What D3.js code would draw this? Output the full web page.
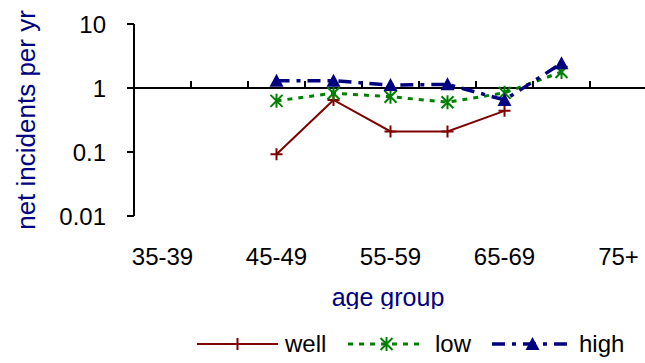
<!DOCTYPE html>
<html>
<head>
<meta charset="utf-8">
<script src="https://cdn.jsdelivr.net/npm/d3@7"></script>
<style>
  html, body { margin: 0; padding: 0; background: #fff; }
  svg { display: block; font-family: "Liberation Sans", Arial, sans-serif; }
</style>
</head>
<body>
<svg id="chart" width="645" height="363"></svg>
<script>
// age groups (only every other one is labelled)
const ageGroups = ["35-39", "40-44", "45-49", "50-54", "55-59", "60-64", "65-69", "70-74", "75+"];
const labelledGroups = ["35-39", "45-49", "55-59", "65-69", "75+"];

// net incidents per year
const wellValues = [null, null, 0.092, 0.65, 0.21, 0.21, 0.44, null, null];
const lowValues  = [null, null, 0.63, 0.83, 0.73, 0.60, 0.84, 1.78, null];
const highValues = [null, null, 1.30, 1.30, 1.11, 1.14, 0.65, 2.43, null];

const yTicks = [0.01, 0.1, 1, 10];
const yTickLabels = ["0.01", "0.1", "1", "10"];

const series = [
  { name: "well", values: wellValues, color: "#800000", dash: null, width: 2, marker: "plus" },
  { name: "low", values: lowValues, color: "#008000", dash: "5,6", width: 3, marker: "star" },
  { name: "high", values: highValues, color: "#000080", dash: "13,7,4,7", width: 3.5, marker: "triangle" }
];

const svg = d3.select("#chart");

// scales
const x = d3.scaleBand().domain(ageGroups).range([134, 647]).padding(0);
const y = d3.scaleLog().domain([0.01, 10]).range([216, 24]);
const cx = d => x(d) + x.bandwidth() / 2;
const axisY = y(1);

// y axis
svg.append("line")
  .attr("x1", 134).attr("x2", 134)
  .attr("y1", y(10)).attr("y2", y(0.01))
  .attr("stroke", "#000").attr("stroke-width", 2);

yTicks.forEach((t, i) => {
  svg.append("line")
    .attr("x1", 127).attr("x2", 134)
    .attr("y1", y(t)).attr("y2", y(t))
    .attr("stroke", "#000").attr("stroke-width", 2);
  svg.append("text")
    .attr("x", 106).attr("y", y(t) + 9)
    .attr("text-anchor", "end")
    .attr("font-size", 24)
    .text(yTickLabels[i]);
});

// x axis crosses at 1
svg.append("line")
  .attr("x1", 134).attr("x2", 647)
  .attr("y1", axisY).attr("y2", axisY)
  .attr("stroke", "#000").attr("stroke-width", 2);

ageGroups.slice(1).forEach(g => {
  svg.append("line")
    .attr("x1", x(g)).attr("x2", x(g))
    .attr("y1", axisY - 7).attr("y2", axisY)
    .attr("stroke", "#000").attr("stroke-width", 2);
});

labelledGroups.forEach(g => {
  svg.append("text")
    .attr("x", cx(g)).attr("y", 265)
    .attr("text-anchor", "middle")
    .attr("font-size", 24)
    .text(g);
});

// axis titles
svg.append("text")
  .attr("transform", "translate(35,120) rotate(-90)")
  .attr("text-anchor", "middle")
  .attr("font-size", 26)
  .attr("fill", "#000080")
  .text("net incidents per yr");

svg.append("clipPath").attr("id", "xtitleClip")
  .append("rect").attr("x", 0).attr("y", 270).attr("width", 645).attr("height", 39);

svg.append("text")
  .attr("clip-path", "url(#xtitleClip)")
  .attr("x", 388).attr("y", 306)
  .attr("text-anchor", "middle")
  .attr("font-size", 25)
  .attr("fill", "#000080")
  .text("age group");

// markers
function drawMarker(g, type, px, py, color) {
  if (type === "plus") {
    g.append("path")
      .attr("d", `M${px - 6},${py}H${px + 6}M${px},${py - 6}V${py + 6}`)
      .attr("stroke", color).attr("stroke-width", 2).attr("fill", "none");
  } else if (type === "star") {
    const r = 6;
    g.append("path")
      .attr("d", `M${px - r},${py - r}L${px + r},${py + r}M${px - r},${py + r}L${px + r},${py - r}M${px},${py - r - 1}V${py + r + 1}`)
      .attr("stroke", color).attr("stroke-width", 2).attr("fill", "none");
  } else {
    g.append("path")
      .attr("d", `M${px},${py - 7}L${px + 7},${py + 6}L${px - 7},${py + 6}Z`)
      .attr("fill", color);
  }
}

const line = d3.line()
  .defined(d => d.v != null)
  .x(d => cx(d.g))
  .y(d => y(d.v));

series.forEach(s => {
  const pts = ageGroups.map((g, i) => ({ g: g, v: s.values[i] }));
  const grp = svg.append("g");
  grp.append("path")
    .datum(pts)
    .attr("d", line)
    .attr("fill", "none")
    .attr("stroke", s.color)
    .attr("stroke-width", s.width)
    .attr("stroke-dasharray", s.dash);
  pts.filter(d => d.v != null).forEach(d => drawMarker(grp, s.marker, cx(d.g), y(d.v), s.color));
});

// legend
const legendItems = [
  { s: series[0], x0: 197, x1: 278, tx: 285 },
  { s: series[1], x0: 348, x1: 425, tx: 435 },
  { s: series[2], x0: 492, x1: 573, tx: 579 }
];
const ly = 344;
legendItems.forEach(it => {
  const lg = svg.append("g");
  lg.append("line")
    .attr("x1", it.x0).attr("x2", it.x1)
    .attr("y1", ly).attr("y2", ly)
    .attr("stroke", it.s.color)
    .attr("stroke-width", it.s.width)
    .attr("stroke-dasharray", it.s.dash);
  drawMarker(lg, it.s.marker, (it.x0 + it.x1) / 2, ly, it.s.color);
  lg.append("text")
    .attr("x", it.tx).attr("y", ly + 8)
    .attr("font-size", 24)
    .text(it.s.name);
});
</script>
</body>
</html>
